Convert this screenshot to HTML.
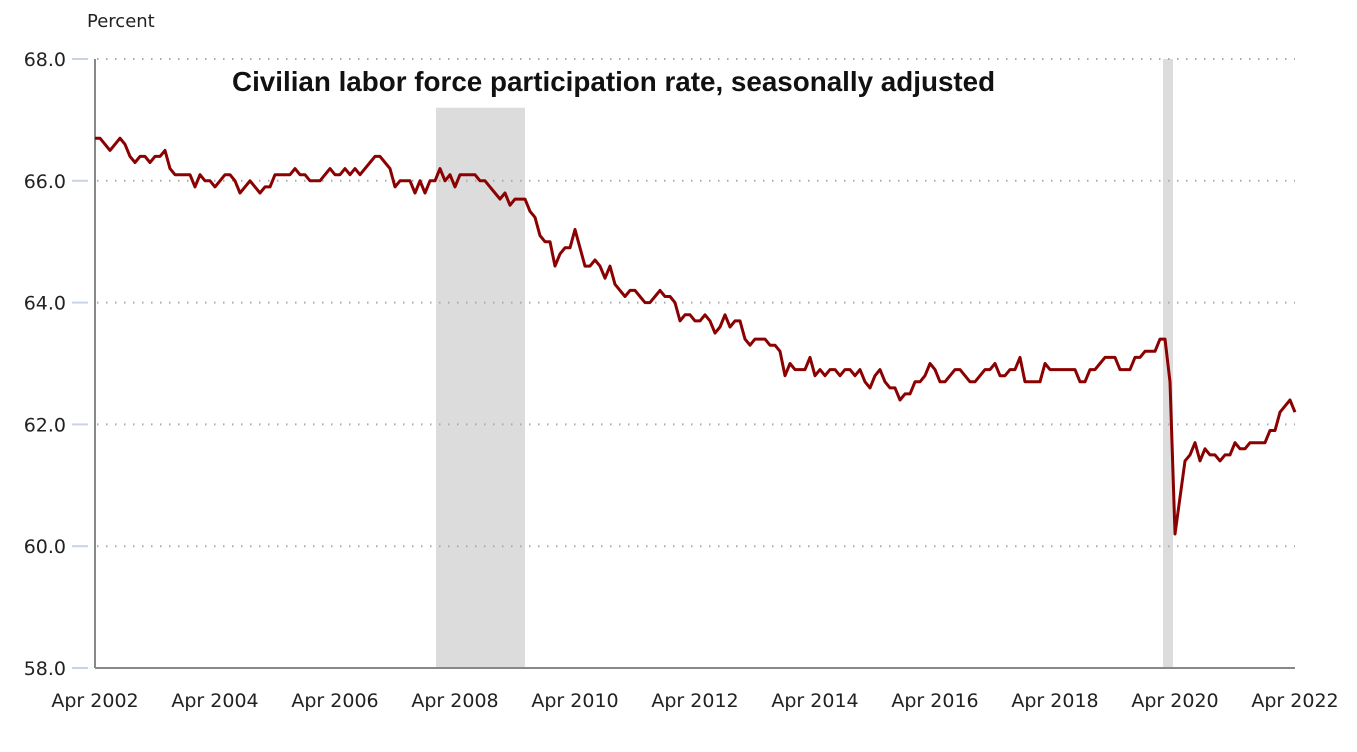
<!DOCTYPE html>
<html><head><meta charset="utf-8"><style>
body{margin:0;background:#fff;}
svg{display:block;font-family:"Segoe UI","DejaVu Sans","Liberation Sans",sans-serif;}
</style></head><body>
<svg id="chart" width="1357" height="752">
<text x="87" y="27" font-size="18" fill="#222">Percent</text>
<g id="rec"></g>
<g id="grid"></g>
<line x1="95" y1="59" x2="95" y2="668" stroke="#888" stroke-width="2"/>
<line x1="95" y1="668" x2="1295" y2="668" stroke="#888" stroke-width="2"/>
<g id="yt"></g>
<g id="xt"></g>
<text x="232" y="91" font-family="Liberation Sans, sans-serif" font-weight="bold" font-size="27.8" fill="#111">Civilian labor force participation rate, seasonally adjusted</text>
<path id="line" fill="none" stroke="#8b0000" stroke-width="3" stroke-linejoin="round"/>
</svg>
<script>
const startLabel = "Apr 2002";
const values = [
66.7,66.7,66.6,66.5,66.6,66.7,66.6,66.4,66.3,
66.4,66.4,66.3,66.4,66.4,66.5,66.2,66.1,66.1,66.1,66.1,65.9,
66.1,66.0,66.0,65.9,66.0,66.1,66.1,66.0,65.8,65.9,66.0,65.9,
65.8,65.9,65.9,66.1,66.1,66.1,66.1,66.2,66.1,66.1,66.0,66.0,
66.0,66.1,66.2,66.1,66.1,66.2,66.1,66.2,66.1,66.2,66.3,66.4,
66.4,66.3,66.2,65.9,66.0,66.0,66.0,65.8,66.0,65.8,66.0,66.0,
66.2,66.0,66.1,65.9,66.1,66.1,66.1,66.1,66.0,66.0,65.9,65.8,
65.7,65.8,65.6,65.7,65.7,65.7,65.5,65.4,65.1,65.0,65.0,64.6,
64.8,64.9,64.9,65.2,64.9,64.6,64.6,64.7,64.6,64.4,64.6,64.3,
64.2,64.1,64.2,64.2,64.1,64.0,64.0,64.1,64.2,64.1,64.1,64.0,
63.7,63.8,63.8,63.7,63.7,63.8,63.7,63.5,63.6,63.8,63.6,63.7,
63.7,63.4,63.3,63.4,63.4,63.4,63.3,63.3,63.2,62.8,63.0,62.9,
62.9,62.9,63.1,62.8,62.9,62.8,62.9,62.9,62.8,62.9,62.9,62.8,
62.9,62.7,62.6,62.8,62.9,62.7,62.6,62.6,62.4,62.5,62.5,62.7,
62.7,62.8,63.0,62.9,62.7,62.7,62.8,62.9,62.9,62.8,62.7,62.7,
62.8,62.9,62.9,63.0,62.8,62.8,62.9,62.9,63.1,62.7,62.7,62.7,
62.7,63.0,62.9,62.9,62.9,62.9,62.9,62.9,62.7,62.7,62.9,62.9,
63.0,63.1,63.1,63.1,62.9,62.9,62.9,63.1,63.1,63.2,63.2,63.2,
63.4,63.4,62.7,60.2,60.8,61.4,61.5,61.7,61.4,61.6,61.5,61.5,
61.4,61.5,61.5,61.7,61.6,61.6,61.7,61.7,61.7,61.7,61.9,61.9,
62.2,62.3,62.4,62.2];
const yTicks = [58,60,62,64,66,68];
const xTickLabels = ["Apr 2002","Apr 2004","Apr 2006","Apr 2008","Apr 2010","Apr 2012","Apr 2014","Apr 2016","Apr 2018","Apr 2020","Apr 2022"];
const xTickMonths = [0,24,48,72,96,120,144,168,192,216,240];
const recStart = [68.2,213.6];
const recEnd = [86,215.6];
const recTop = [67.2,68];

const NS="http://www.w3.org/2000/svg";
const X0=95,X1=1295,Y0=668,Y1=59,YMIN=58,YMAX=68,NM=240;
const xs=m=>X0+(X1-X0)*m/NM;
const ys=v=>Y0-(Y0-Y1)*(v-YMIN)/(YMAX-YMIN);
function mk(t,a,p){const e=document.createElementNS(NS,t);for(const k in a)e.setAttribute(k,a[k]);p.appendChild(e);return e;}
const rec=document.getElementById('rec');
recStart.forEach((s,i)=>{
  const r=mk('rect',{x:xs(s),y:ys(recTop[i]),width:xs(recEnd[i])-xs(s),height:Y0-ys(recTop[i]),fill:'#dcdcdc'},rec);
  
  
});
const grid=document.getElementById('grid'),yt=document.getElementById('yt');
yTicks.forEach(v=>{
  const y=ys(v);
  if(v>YMIN){const g=mk('line',{x1:97,y1:y,x2:1295,y2:y,stroke:'#aaa','stroke-width':2,'stroke-dasharray':'1.5 7.5'},grid);
  
  }
  const tk=mk('line',{x1:72,y1:y,x2:88,y2:y,stroke:'#c8d4e6','stroke-width':2},yt);
  
  
  const t=mk('text',{x:66,y:y+7,'text-anchor':'end','font-size':19,fill:'#222'},yt);
  t.textContent=v.toFixed(1);
  
  
});
const xt=document.getElementById('xt');
xTickMonths.forEach((m,i)=>{
  const t=mk('text',{x:xs(m),y:707,'text-anchor':'middle','font-size':19,fill:'#222'},xt);
  t.textContent=xTickLabels[i];
  
  
});
document.getElementById('line').setAttribute('d',values.map((v,i)=>(i?'L':'M')+xs(i).toFixed(1)+' '+ys(v).toFixed(1)).join(''));
</script>
</body></html>
